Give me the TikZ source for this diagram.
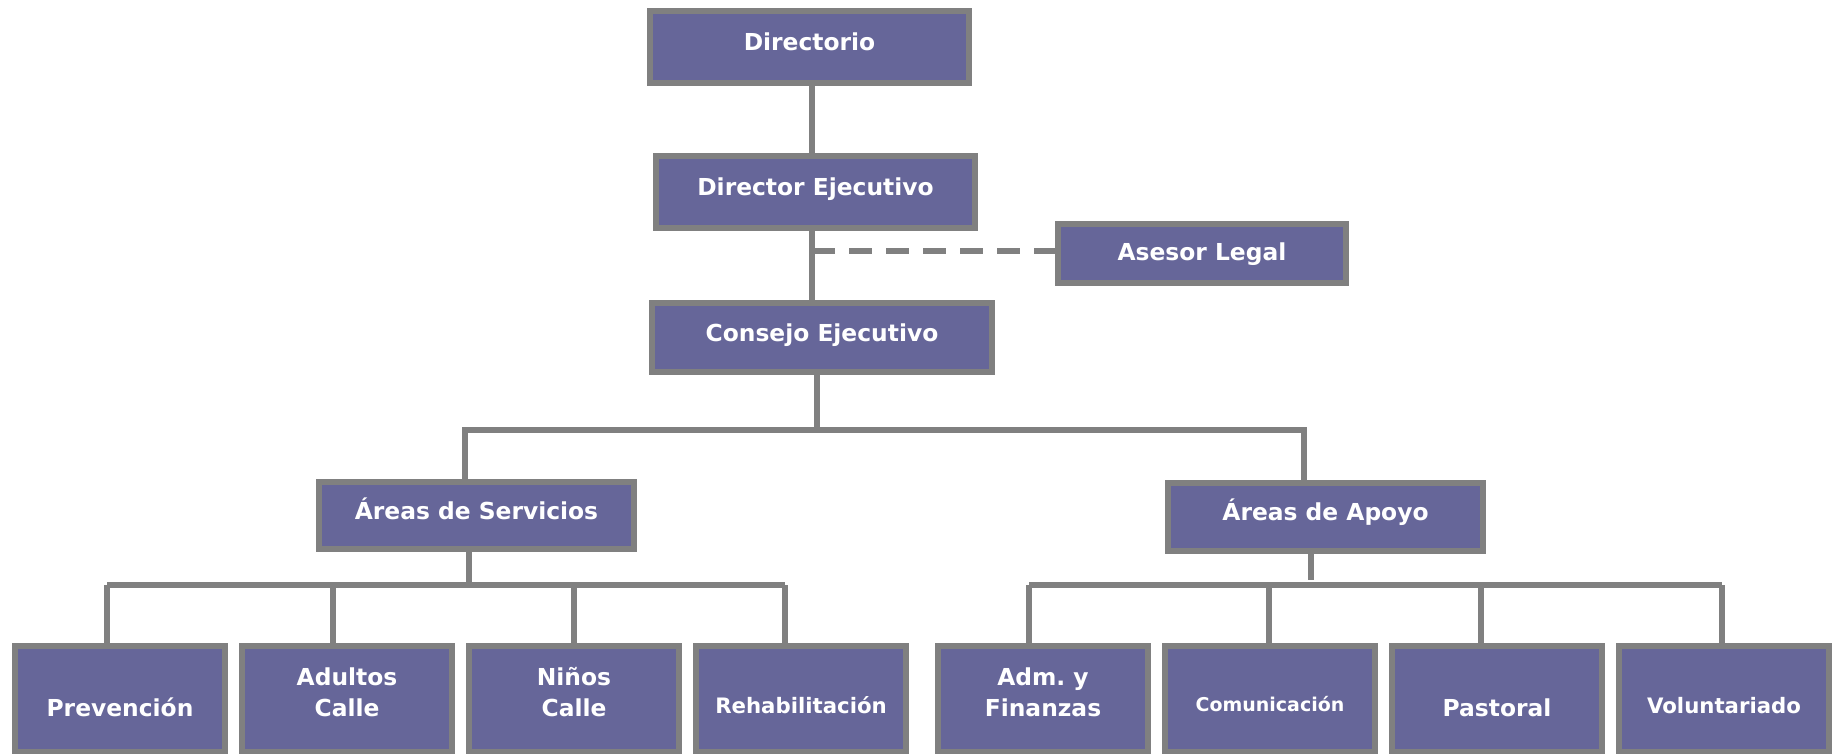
\documentclass[tikz,border=0pt]{standalone}
\usepackage{fontspec}
\setmainfont{DejaVu Sans}
\definecolor{boxfill}{HTML}{666699}
\definecolor{boxline}{HTML}{808080}

\begin{document}
\begin{tikzpicture}[x=0.2mm,y=-0.2mm]
			\tikzstyle{box}=[draw=boxline,fill=boxfill,line width=1.2mm,text=white,
			inner sep=0pt,outer sep=0pt,font=\fontsize{13.3}{17.6}\selectfont\bfseries,
			text height=3.5mm,text depth=2.1mm,minimum width=63.8mm,minimum height=14.4mm]
			\tikzstyle{unit}=[box,minimum width=42mm,minimum height=21.2mm,
			text height=7.5mm,text depth=0.5mm]
			\tikzstyle{twoline}=[align=center]
			\tikzstyle{conn}=[draw=boxline,line width=1.1mm]
			\useasboundingbox (0,0) rectangle (1837,753);
			\node[box] (dir) at (809.5,47) {Directorio};
			\node[box] (dirje) at (815.5,192) {Director Ejecutivo};
			\node[box,minimum width=57.6mm,minimum height=11.8mm,text depth=0.7mm] (ase) at (1202,253.5) {Asesor Legal};
			\node[box,minimum width=68mm,minimum height=13.8mm] (cons) at (822,337.5) {Consejo Ejecutivo};
			\node[box,minimum width=63mm,minimum height=13.5mm] (serv) at (476.5,515.5) {Áreas de Servicios};
			\node[box,minimum width=63mm,minimum height=13.5mm] (apoyo) at (1325.5,517) {Áreas de Apoyo};
			\node[unit] (prev) at (120,699) {Prevención};
			\node[unit,twoline] (adul) at (347,699) {Adultos\\Calle};
			\node[unit,twoline] (nin) at (574,699) {Niños\\Calle};
			\node[unit,text height=6.4mm,font=\fontsize{12.1}{15}\selectfont\bfseries] (reha) at (801,699) {Rehabilitación};
			\node[unit,twoline] (adm) at (1043,699) {Adm.\ y\\Finanzas};
			\node[unit,text height=5.3mm,font=\fontsize{10.8}{13}\selectfont\bfseries] (com) at (1270,699) {Comunicación};
			\node[unit] (pas) at (1497,699) {Pastoral};
			\node[unit,text height=6.4mm,font=\fontsize{12.1}{15}\selectfont\bfseries] (vol) at (1724,699) {Voluntariado};
			\coordinate (dj) at (812,251);
			\coordinate (top) at (817,430);
			\coordinate (barL) at (465,430);
			\coordinate (barR) at (1304,430);
			\coordinate (sb) at (469,585);
			\coordinate (sbL) at (107,585);
			\coordinate (sbR) at (785,585);
			\coordinate (ab) at (1311,580);
			\coordinate (abL) at (1029,585);
			\coordinate (abR) at (1722,585);
			\draw[conn] (dir.south -| dj) -- (dirje.north -| dj);
			\draw[conn] (dirje.south -| dj) -- (cons.north -| dj);
			\draw[conn,dash pattern=on 4.6mm off 2.8mm] (dj) -- (dj -| ase.west);
			\draw[conn] (cons.south -| top) -- (top);
			\draw[conn] (serv.north -| barL) -- (barL) -- (barR) -- (apoyo.north -| barR);
			\draw[conn] (serv.south -| sb) -- (sb);
			\draw[conn] (sbL) -- (sbR);
			\foreach \n/\x in {prev/107,adul/333,nin/574,reha/785}
				\draw[conn] (\n.north -| \x,0) -- (\x,585);
			\draw[conn] (apoyo.south -| ab) -- (ab);
			\draw[conn] (abL) -- (abR);
			\foreach \n/\x in {adm/1029,com/1269,pas/1481,vol/1722}
				\draw[conn] (\n.north -| \x,0) -- (\x,585);
\end{tikzpicture}
\end{document}
